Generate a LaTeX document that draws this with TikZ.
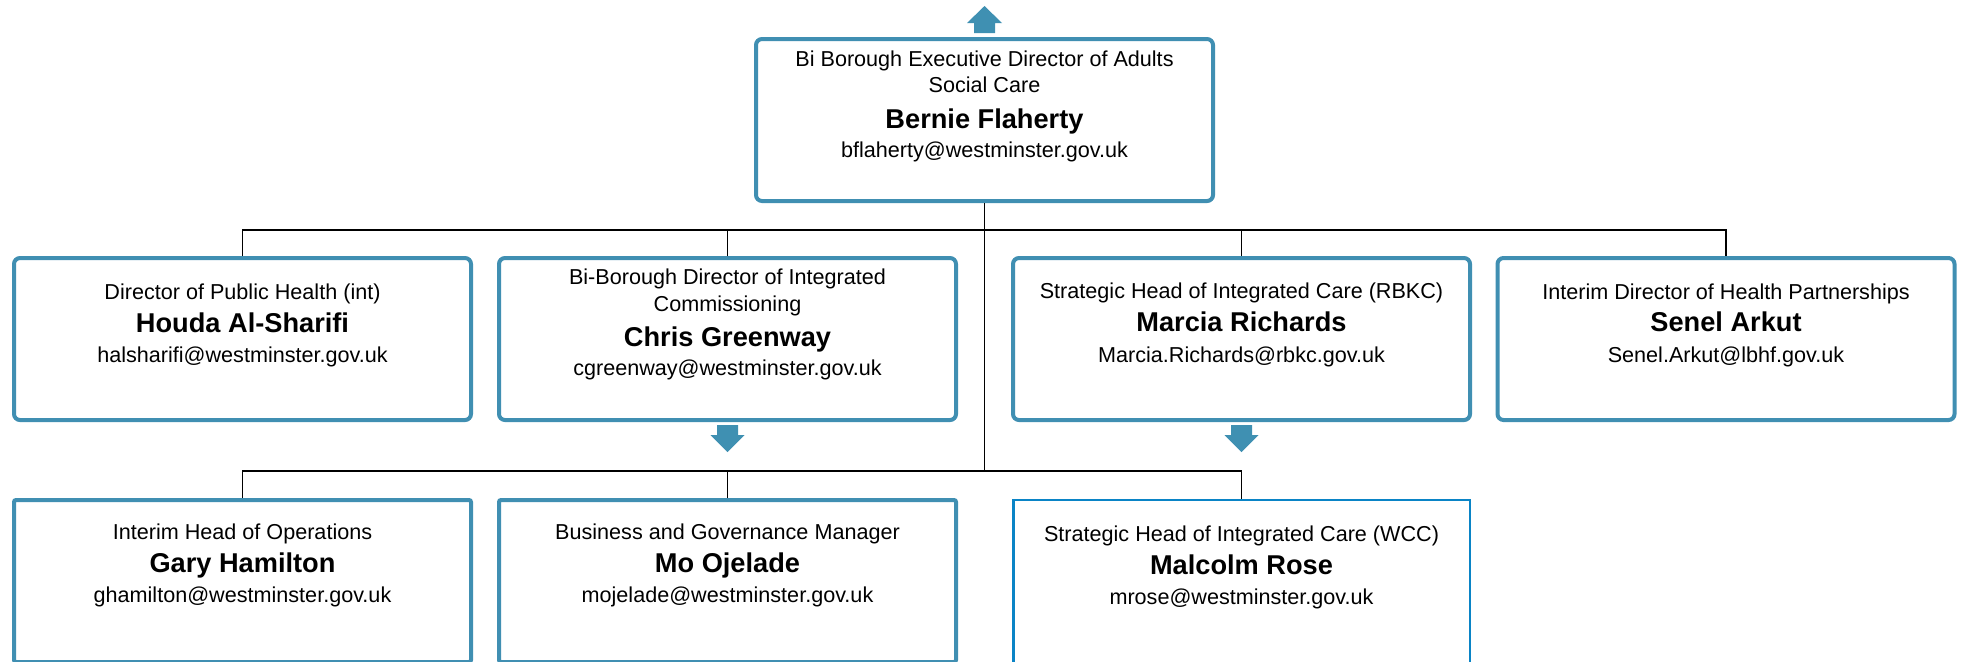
\documentclass[tikz,border=0pt]{standalone}
\usepackage{fontspec}
\setmainfont{Liberation Sans}
\usetikzlibrary{calc}
\definecolor{boxblue}{HTML}{408FB2}
\definecolor{arrowblue}{HTML}{3F90B2}
\definecolor{wccblue}{HTML}{0A84C6}
\newcommand{\dnarr}[1]{\fill[blk] ($(#1.south)+(-10.5,3)$) -- ++(0,10) -- ++(-6.5,0) -- ($(#1.south)+(0,30)$) -- ($(#1.south)+(17,13)$) -- ++(-6.5,0) -- ($(#1.south)+(10.5,3)$) -- cycle;}
\begin{document}
\begin{tikzpicture}[x=0.5pt,y=-0.5pt,
  box/.style={draw=boxblue, line width=2pt, rounded corners=3pt, minimum width=228.5pt, minimum height=81pt, inner sep=0pt, fill=white},
  sqbox/.style={box, rounded corners=1pt},
  wccbox/.style={draw=wccblue, line width=1.25pt, minimum width=228.25pt, minimum height=81.75pt, inner sep=0pt, fill=white},
  conn/.style={draw=black, line width=0.7pt},
  ttl/.style={anchor=base, font=\fontsize{10.8}{13}\selectfont, inner sep=0pt},
  nm/.style={anchor=base, font=\fontsize{13.6}{16}\selectfont\bfseries, inner sep=0pt},
  blk/.style={fill=arrowblue, draw=none}]
\useasboundingbox (0,0) rectangle (1965,661);
\clip (0,0) rectangle (1965,661);

% boxes
\node[box] (top) at (984.5,120) {};
\node[box] (houda) at (242.5,339) {};
\node[box] (chris) at (727.5,339) {};
\node[box] (marcia) at (1241.5,339) {};
\node[box] (senel) at (1726,339) {};
\node[sqbox] (gary) at (242.5,581) {};
\node[sqbox] (mo) at (727.5,581) {};
\node[wccbox] (malcolm) at (1241.5,581.5) {};

% connectors
\coordinate (bus1) at (984.5,230);
\coordinate (bus2) at (984.5,471);
\draw[conn] (top.south) -- (bus2);
\draw[conn] (houda.north) |- (bus1) -| (senel.north);
\draw[conn] (chris.north) -- (chris.north |- bus1);
\draw[conn] (marcia.north) -- (marcia.north |- bus1);
\draw[conn] (gary.north) |- (bus2) -| (malcolm.north);
\draw[conn] (mo.north) -- (mo.north |- bus2);

% block arrows
\fill[blk] ($(top.north)+(-10.5,-4)$) -- ++(0,-10) -- ++(-7,0) -- ($(top.north)+(0,-31)$) -- ($(top.north)+(17.5,-14)$) -- ++(-7,0) -- ($(top.north)+(10.5,-4)$) -- cycle;
\dnarr{chris}
\dnarr{marcia}

% texts
\node[ttl] (top-t1) at (984.5,66) {Bi Borough Executive Director of Adults};
\node[ttl] (top-t2) at (984.5,92) {Social Care};
\node[nm]  (top-n)  at (984.5,128) {Bernie Flaherty};
\node[ttl] (top-e)  at (984.5,157) {bflaherty@westminster.gov.uk};

\node[ttl] (houda-t) at (242.5,299) {Director of Public Health (int)};
\node[nm]  (houda-n) at (242.5,332) {Houda Al-Sharifi};
\node[ttl] (houda-e) at (242.5,362) {halsharifi@westminster.gov.uk};

\node[ttl] (chris-t1) at (727.5,284) {Bi-Borough Director of Integrated};
\node[ttl] (chris-t2) at (727.5,311) {Commissioning};
\node[nm]  (chris-n)  at (727.5,346) {Chris Greenway};
\node[ttl] (chris-e)  at (727.5,375) {cgreenway@westminster.gov.uk};

\node[ttl] (marcia-t) at (1241.5,298) {Strategic Head of Integrated Care (RBKC)};
\node[nm]  (marcia-n) at (1241.5,331) {Marcia Richards};
\node[ttl] (marcia-e) at (1241.5,362) {Marcia.Richards@rbkc.gov.uk};

\node[ttl] (senel-t) at (1726,299) {Interim Director of Health Partnerships};
\node[nm]  (senel-n) at (1726,331) {Senel Arkut};
\node[ttl] (senel-e) at (1726,362) {Senel.Arkut@lbhf.gov.uk};

\node[ttl] (gary-t) at (242.5,539) {Interim Head of Operations};
\node[nm]  (gary-n) at (242.5,572) {Gary Hamilton};
\node[ttl] (gary-e) at (242.5,602) {ghamilton@westminster.gov.uk};

\node[ttl] (mo-t) at (727.5,539) {Business and Governance Manager};
\node[nm]  (mo-n) at (727.5,572) {Mo Ojelade};
\node[ttl] (mo-e) at (727.5,602) {mojelade@westminster.gov.uk};

\node[ttl] (malcolm-t) at (1241.5,541) {Strategic Head of Integrated Care (WCC)};
\node[nm]  (malcolm-n) at (1241.5,574) {Malcolm Rose};
\node[ttl] (malcolm-e) at (1241.5,604) {mrose@westminster.gov.uk};
\end{tikzpicture}
\end{document}
